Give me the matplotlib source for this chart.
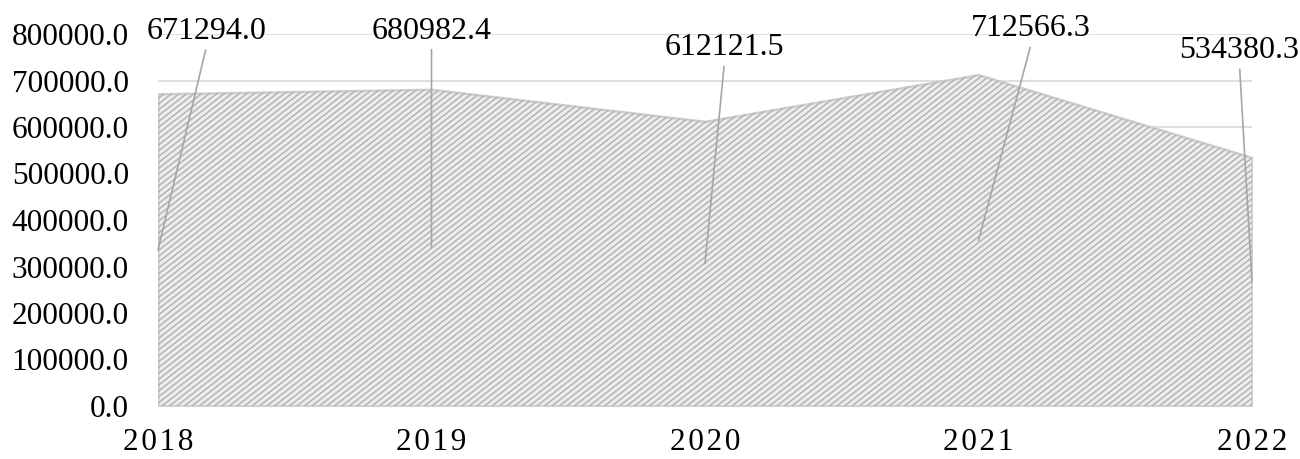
import numpy as np
import matplotlib
matplotlib.use("Agg")
import matplotlib.pyplot as plt
from matplotlib.collections import LineCollection
from matplotlib.transforms import offset_copy

# Data
years = ["2018", "2019", "2020", "2021", "2022"]
values = [671294.0, 680982.4, 612121.5, 712566.3, 534380.3]
y_ticks = [0, 100000, 200000, 300000, 400000, 500000, 600000, 700000, 800000]

# Offset of each value label from its data point, in points
label_offsets = [(35, 45), (0, 42), (14, 53), (38, 33), (-9, 77)]

plt.rcParams["font.family"] = ["Liberation Serif", "DejaVu Serif"]

W, H, DPI = 1300, 459, 100
fig = plt.figure(figsize=(W / DPI, H / DPI), dpi=DPI)
left, right, bottom, top = 158 / W, 1252 / W, 1 - 406 / H, 1 - 34 / H
ax = fig.add_axes([left, bottom, right - left, top - bottom])

x = np.arange(len(years))
ax.set_xlim(x[0], x[-1])
ax.set_ylim(0, 800000)

# Gridlines
ax.set_yticks(y_ticks)
ax.grid(axis="y", color="#d9d9d9", lw=1.2, zorder=0)
ax.set_axisbelow(True)
for s in ax.spines.values():
    s.set_visible(False)

# Area with light base fill and soft edge
poly = ax.fill_between(x, values, 0, facecolor="#ededed", edgecolor="#cfcfcf",
                       lw=1.8, zorder=2)

# Diagonal stripe texture clipped to the area
ax_w_px = (right - left) * W
ax_h_px = (top - bottom) * H
theta = np.deg2rad(38)
spacing = 7.5
run = ax_h_px / np.tan(theta)
starts = np.arange(-run, ax_w_px + spacing, spacing)
segs = [[(s / ax_w_px, 0.0), ((s + run) / ax_w_px, 1.0)] for s in starts]
lc = LineCollection(segs, colors="#b3b3b3", linewidths=1.1,
                    transform=ax.transAxes, zorder=3)
ax.add_collection(lc)
lc.set_clip_path(poly.get_paths()[0], ax.transData)

# Value labels with leader lines down to the middle of the area
for xi, v, (dx, dy) in zip(x, values, label_offsets):
    label_tr = offset_copy(ax.transData, fig=fig, x=dx, y=dy, units="points")
    ax.annotate(f"{v:.1f}", xy=(xi, v / 2), xycoords="data",
                xytext=(xi, v), textcoords=label_tr,
                fontsize=23, ha="center", va="center", color="black",
                annotation_clip=False, zorder=5,
                arrowprops=dict(arrowstyle="-", color="#a6a6a6", lw=1.2,
                                relpos=(0.5, 0.0), shrinkA=1, shrinkB=0))

ax.set_yticklabels([f"{t:.1f}" for t in y_ticks], fontsize=22.5)
ax.tick_params(axis="y", length=0, pad=21)
ax.set_xticks(x)
ax.set_xticklabels(["\u200a".join(y) for y in years], fontsize=22.5,
                   family=["Liberation Serif", "DejaVu Sans"])
ax.tick_params(axis="x", length=0, pad=15.5)

fig.savefig("out.png", dpi=DPI)
